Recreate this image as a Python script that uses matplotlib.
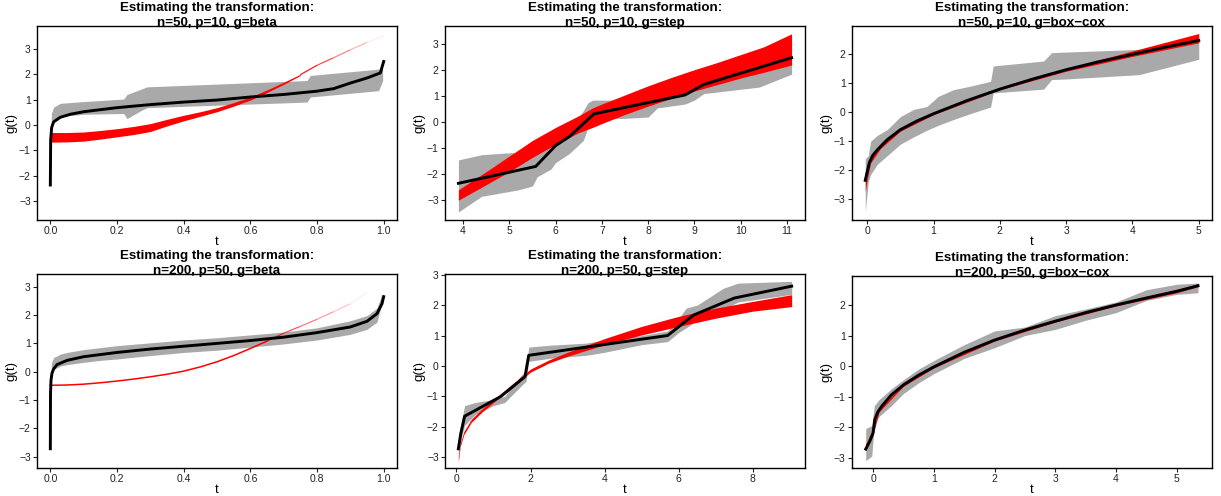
import numpy as np
import matplotlib
matplotlib.use('Agg')
import matplotlib.pyplot as plt
import matplotlib.transforms as mtransforms
from matplotlib.collections import LineCollection

plt.rcParams['font.family'] = ['Liberation Sans', 'DejaVu Sans']

# panel titles
title_top = 'Estimating the transformation:'
titles = ['n=50, p=10, g=beta', 'n=50, p=10, g=step', 'n=50, p=10, g=box\u2212cox',
          'n=200, p=50, g=beta', 'n=200, p=50, g=step', 'n=200, p=50, g=box\u2212cox']

# ---- panel 1: n=50, beta
b1_t = [0.0, 0.001, 0.004, 0.01, 0.03, 0.06, 0.1, 0.2, 0.3, 0.4, 0.5, 0.6, 0.7, 0.8, 0.85, 0.9, 0.95, 0.99, 1.0]
b1_y = [-2.37, -0.6, -0.1, 0.12, 0.3, 0.42, 0.52, 0.68, 0.8, 0.9, 0.98, 1.1, 1.2, 1.33, 1.43, 1.65, 1.85, 2.05, 2.5]
g1_t = [0.003, 0.01, 0.03, 0.1, 0.22, 0.23, 0.27, 0.29, 0.77, 0.78, 0.985, 0.997]
g1_hi = [0.45, 0.7, 0.85, 0.92, 1.02, 1.2, 1.4, 1.5, 1.75, 1.95, 2.2, 2.24]
g1_lo = [-0.1, 0.2, 0.33, 0.42, 0.45, 0.25, 0.55, 0.68, 0.9, 1.1, 1.35, 1.75]
r1_t = [0.0, 0.05, 0.1, 0.15, 0.2, 0.25, 0.3, 0.35, 0.4, 0.45, 0.5, 0.55, 0.6, 0.65, 0.7, 0.75]
r1_hi = [-0.3, -0.3, -0.28, -0.22, -0.15, -0.06, 0.05, 0.22, 0.38, 0.52, 0.68, 0.88, 1.1, 1.38, 1.68, 2.0]
r1_lo = [-0.68, -0.67, -0.64, -0.56, -0.47, -0.38, -0.26, -0.04, 0.16, 0.34, 0.52, 0.74, 0.98, 1.28, 1.6, 1.95]
r1_tail_t = [0.75, 0.8, 0.85, 0.9, 0.95, 1.0]
r1_tail_y = [1.98, 2.35, 2.65, 2.96, 3.25, 3.52]

# ---- panel 2: n=50, step
b2_t = [3.9, 5.57, 6.0, 6.3, 6.83, 8.8, 9.2, 11.1]
b2_y = [-2.35, -1.7, -0.9, -0.55, 0.32, 1.05, 1.45, 2.48]
g2_t = [3.9, 4.4, 5.2, 5.5, 5.6, 5.9, 6.0, 6.3, 6.6, 6.7, 6.8, 7.0, 7.5, 8.0, 8.2, 8.8, 9.0, 9.2, 10.4, 11.1]
g2_hi = [-1.45, -1.25, -1.15, -1.1, -1.0, -0.85, -0.7, -0.4, 0.45, 0.75, 0.85, 0.85, 0.85, 0.9, 1.0, 1.15, 1.3, 1.6, 2.1, 2.55]
g2_lo = [-3.45, -2.85, -2.6, -2.45, -2.1, -1.8, -1.55, -1.2, -0.7, -0.2, 0.1, 0.12, 0.15, 0.2, 0.55, 0.7, 0.85, 1.1, 1.35, 1.85]
r2_t = [3.9, 4.5, 5.0, 5.5, 6.0, 6.5, 6.8, 7.0, 7.5, 8.0, 8.5, 9.0, 9.5, 10.0, 10.5, 11.1]
r2_hi = [-2.6, -1.9, -1.3, -0.7, -0.2, 0.25, 0.55, 0.7, 1.05, 1.4, 1.72, 2.02, 2.3, 2.6, 2.9, 3.4]
r2_lo = [-3.0, -2.4, -1.9, -1.35, -0.85, -0.4, -0.2, -0.05, 0.3, 0.62, 0.92, 1.2, 1.45, 1.7, 1.92, 2.2]

# ---- panel 3: n=50, box-cox
b3_t = [-0.03, 0.0, 0.03, 0.08, 0.15, 0.3, 0.5, 0.75, 1.0, 1.5, 2.0, 2.5, 3.0, 3.5, 4.0, 4.5, 5.0]
b3_y = [-2.35, -2.05, -1.75, -1.5, -1.3, -0.95, -0.6, -0.3, -0.05, 0.4, 0.8, 1.15, 1.47, 1.75, 2.0, 2.25, 2.48]
g3_t = [-0.03, 0.015, 0.05, 0.15, 0.3, 0.5, 0.7, 0.9, 1.07, 1.3, 1.55, 1.86, 1.9, 2.66, 2.78, 3.0, 4.1, 5.0]
g3_hi = [-1.6, -1.5, -1.0, -0.8, -0.6, -0.15, 0.1, 0.2, 0.55, 0.78, 0.9, 1.07, 1.6, 1.77, 2.06, 2.08, 2.17, 2.55]
g3_lo = [-3.43, -2.4, -2.15, -1.8, -1.5, -1.1, -0.85, -0.62, -0.45, -0.25, -0.05, 0.18, 0.67, 0.8, 1.13, 1.15, 1.3, 1.83]
r3_t = [-0.03, 0.0, 0.05, 0.2, 0.5, 1.0, 2.0, 3.0, 4.0, 5.0]
r3_hi = [-2.1, -1.85, -1.5, -1.1, -0.55, -0.02, 0.83, 1.5, 2.12, 2.72]
r3_lo = [-2.75, -2.3, -1.75, -1.25, -0.65, -0.08, 0.78, 1.42, 1.93, 2.4]

# ---- panel 4: n=200, beta
b4_t = [0.0, 0.0005, 0.002, 0.005, 0.01, 0.02, 0.05, 0.1, 0.2, 0.3, 0.4, 0.5, 0.6, 0.7, 0.8, 0.9, 0.95, 0.98, 0.995, 1.0]
b4_y = [-2.72, -0.8, -0.3, -0.05, 0.1, 0.25, 0.4, 0.53, 0.68, 0.8, 0.9, 1.0, 1.1, 1.22, 1.38, 1.58, 1.78, 2.05, 2.4, 2.65]
g4_t = [0.003, 0.01, 0.03, 0.05, 0.1, 0.15, 0.2, 0.3, 0.4, 0.5, 0.6, 0.7, 0.8, 0.9, 0.95, 0.98, 0.995]
g4_hi = [0.3, 0.5, 0.62, 0.68, 0.78, 0.85, 0.92, 1.02, 1.12, 1.2, 1.3, 1.4, 1.55, 1.8, 1.98, 2.25, 2.75]
g4_lo = [-0.2, 0.08, 0.2, 0.25, 0.33, 0.4, 0.45, 0.57, 0.68, 0.76, 0.87, 0.98, 1.12, 1.32, 1.5, 1.75, 2.45]
r4_t = [0.0, 0.05, 0.1, 0.15, 0.2, 0.25, 0.3, 0.35, 0.4, 0.45, 0.5, 0.55, 0.6, 0.65]
r4_y = [-0.48, -0.47, -0.44, -0.39, -0.33, -0.26, -0.18, -0.09, 0.02, 0.17, 0.35, 0.57, 0.82, 1.08]
r4_tail_t = [0.65, 0.7, 0.75, 0.8, 0.85, 0.9, 0.95]
r4_tail_y = [1.08, 1.36, 1.6, 1.85, 2.12, 2.4, 2.8]

# ---- panel 5: n=200, step
b5_t = [0.05, 0.12, 0.22, 1.2, 1.85, 1.95, 5.7, 6.4, 7.5, 9.05]
b5_y = [-2.72, -2.2, -1.65, -1.0, -0.35, 0.35, 1.0, 1.67, 2.23, 2.62]
g5_t = [0.05, 0.12, 0.22, 0.5, 1.0, 1.3, 1.75, 1.88, 1.95, 2.5, 3.5, 4.0, 5.0, 5.7, 6.0, 6.2, 6.5, 7.2, 7.6, 9.05]
g5_hi = [-2.3, -1.9, -1.3, -1.2, -1.1, -1.0, -0.3, -0.15, 0.62, 0.68, 0.75, 0.85, 1.0, 1.15, 1.55, 1.9, 2.0, 2.55, 2.72, 2.78]
g5_lo = [-3.05, -2.4, -1.95, -1.6, -1.3, -1.2, -0.65, -0.5, 0.15, 0.25, 0.35, 0.45, 0.7, 0.8, 1.1, 1.25, 1.5, 1.85, 2.1, 2.35]
r5_t = [0.05, 0.1, 0.2, 0.4, 0.7, 1.0, 1.5, 2.0, 2.5, 3.0, 4.0, 5.0, 6.0, 7.0, 8.0, 9.05]
r5_hi = [-3.0, -2.55, -2.15, -1.75, -1.4, -1.1, -0.6, -0.1, 0.2, 0.45, 0.9, 1.3, 1.63, 1.9, 2.12, 2.34]
r5_lo = [-3.15, -2.65, -2.25, -1.85, -1.5, -1.2, -0.7, -0.2, 0.1, 0.32, 0.7, 1.02, 1.3, 1.57, 1.8, 1.95]

# ---- panel 6: n=200, box-cox
b6_t = [-0.12, -0.05, 0.0, 0.03, 0.08, 0.15, 0.3, 0.5, 0.75, 1.0, 1.5, 2.0, 2.5, 3.0, 3.5, 4.0, 4.5, 5.0, 5.35]
b6_y = [-2.72, -2.45, -2.2, -1.75, -1.5, -1.3, -0.95, -0.62, -0.3, -0.03, 0.45, 0.85, 1.18, 1.47, 1.75, 2.0, 2.23, 2.45, 2.63]
g6_t = [-0.12, -0.02, 0.02, 0.1, 0.3, 0.5, 0.75, 1.0, 1.5, 2.0, 2.5, 3.0, 3.5, 4.0, 4.5, 5.0, 5.35]
g6_hi = [-2.05, -1.95, -1.3, -1.1, -0.75, -0.45, -0.1, 0.18, 0.7, 1.15, 1.28, 1.65, 1.87, 2.1, 2.5, 2.68, 2.72]
g6_lo = [-3.1, -2.95, -1.95, -1.65, -1.3, -0.9, -0.55, -0.25, 0.25, 0.6, 1.0, 1.2, 1.5, 1.75, 2.15, 2.35, 2.4]
r6_t = [-0.12, 0.0, 0.1, 0.5, 1.0, 2.0, 3.0, 4.0, 5.0, 5.35]
r6_hi = [-2.55, -2.05, -1.4, -0.6, 0.0, 0.88, 1.5, 2.03, 2.5, 2.7]
r6_lo = [-2.75, -2.25, -1.5, -0.66, -0.06, 0.82, 1.44, 1.97, 2.4, 2.6]

# axis limits and ticks for each panel
xlims = [(-0.04, 1.04), (3.61, 11.39), (-0.23, 5.2), (-0.04, 1.04), (-0.31, 9.41), (-0.346, 5.58)]
ylims = [(-3.75, 3.9), (-3.76, 3.7), (-3.72, 2.98), (-3.4, 3.45), (-3.35, 3.02), (-3.34, 2.95)]
xticks = [[0.0, 0.2, 0.4, 0.6, 0.8, 1.0], [4, 5, 6, 7, 8, 9, 10, 11], [0, 1, 2, 3, 4, 5],
          [0.0, 0.2, 0.4, 0.6, 0.8, 1.0], [0, 2, 4, 6, 8], [0, 1, 2, 3, 4, 5]]

GRAY = '#a9a9a9'
W, H = 1221, 496
fig = plt.figure(figsize=(W / 100, H / 100), dpi=100)

# panel boxes in pixels: left, top, right, bottom
boxes = [(37, 26, 397, 220), (445, 26, 805, 220), (852, 26, 1212, 220),
         (37, 274, 397, 468), (445, 274, 805, 468), (852, 276, 1212, 468)]


def fading(ax, t, y, lw):
    pts = np.column_stack([t, y])
    segs = np.stack([pts[:-1], pts[1:]], axis=1)
    n = len(segs)
    cols = [(1, 0, 0, a) for a in np.linspace(0.9, 0.08, n)]
    ax.add_collection(LineCollection(segs, colors=cols, linewidths=lw, zorder=3))


axes = []
for i, (l, t, r, b) in enumerate(boxes):
    ax = fig.add_axes([l / W, (H - b) / H, (r - l) / W, (b - t) / H])
    axes.append(ax)
    ax.set_xlim(*xlims[i])
    ax.set_ylim(*ylims[i])
    ax.set_xticks(xticks[i])
    if i in (0, 3):
        ax.set_xticklabels(['%.1f' % v for v in xticks[i]])
    yt = [v for v in range(-3, 4) if ylims[i][0] <= v <= ylims[i][1]]
    ax.set_yticks(yt)
    ax.set_yticklabels([str(v).replace('-', '\u2212') for v in yt])
    ax.tick_params(labelsize=7.5, length=3, width=0.8, pad=1.5, colors='#222222')
    for s in ax.spines.values():
        s.set_linewidth(1.0)
    ax.set_xlabel('t', fontsize=9.5, labelpad=0)
    ax.set_ylabel('g(t)', fontsize=9.5, labelpad=1)
    # two-line bold title, second line sitting on the top border
    for dy, txt in ((15, title_top), (0, titles[i])):
        tr = mtransforms.offset_copy(ax.transAxes, fig=fig, y=dy, units='dots')
        ax.text(0.5, 1.0, txt, transform=tr, ha='center', va='baseline',
                fontsize=9.6, fontweight='bold', zorder=5, clip_on=False)

ax = axes[0]
ax.fill_between(g1_t, g1_lo, g1_hi, color=GRAY, lw=0, zorder=1)
ax.fill_between(r1_t, r1_lo, r1_hi, color='red', lw=0, zorder=2)
fading(ax, r1_tail_t, r1_tail_y, 0.9)
ax.plot(b1_t, b1_y, color='black', lw=2.1, zorder=4)

ax = axes[1]
ax.fill_between(g2_t, g2_lo, g2_hi, color=GRAY, lw=0, zorder=1)
ax.fill_between(r2_t, r2_lo, r2_hi, color='red', lw=0, zorder=2)
ax.plot(b2_t, b2_y, color='black', lw=2.1, zorder=4)

ax = axes[2]
ax.fill_between(g3_t, g3_lo, g3_hi, color=GRAY, lw=0, zorder=1)
ax.fill_between(r3_t, r3_lo, r3_hi, color='red', lw=0, zorder=2)
ax.plot(b3_t, b3_y, color='black', lw=2.1, zorder=4)

ax = axes[3]
ax.fill_between(g4_t, g4_lo, g4_hi, color=GRAY, lw=0, zorder=1)
ax.plot(r4_t, r4_y, color='red', lw=1.1, zorder=3)
fading(ax, r4_tail_t, r4_tail_y, 0.8)
ax.plot(b4_t, b4_y, color='black', lw=2.1, zorder=4)

ax = axes[4]
ax.fill_between(g5_t, g5_lo, g5_hi, color=GRAY, lw=0, zorder=1)
ax.fill_between(r5_t, r5_lo, r5_hi, color='red', lw=0, zorder=2)
ax.plot(b5_t, b5_y, color='black', lw=2.1, zorder=4)

ax = axes[5]
ax.fill_between(g6_t, g6_lo, g6_hi, color=GRAY, lw=0, zorder=1)
ax.fill_between(r6_t, r6_lo, r6_hi, color='red', lw=0, zorder=2)
ax.plot(b6_t, b6_y, color='black', lw=2.1, zorder=4)

fig.savefig('out.png', dpi=100)
